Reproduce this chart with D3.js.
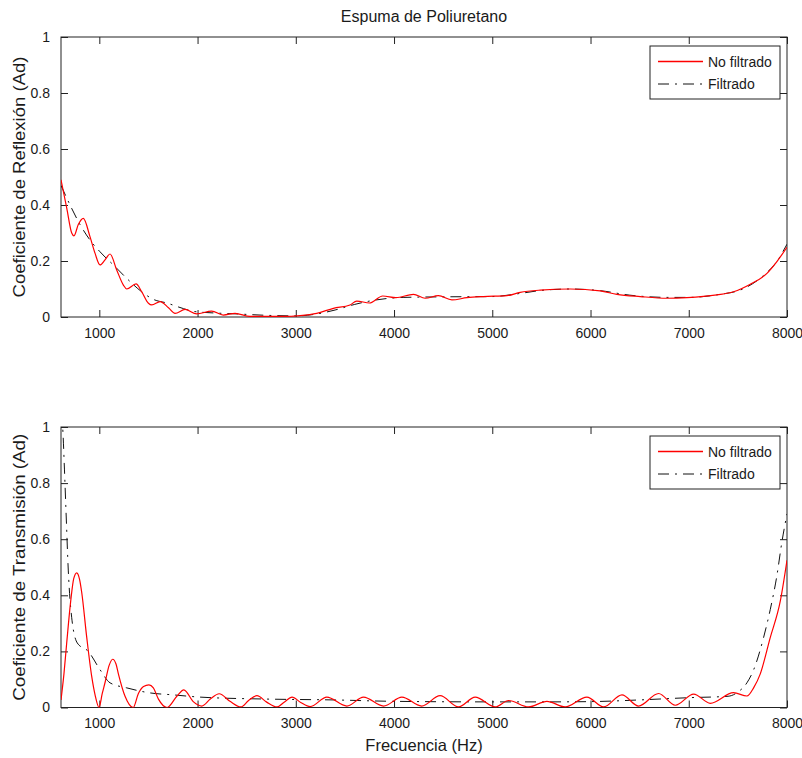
<!DOCTYPE html>
<html>
<head>
<meta charset="utf-8">
<script src="https://cdn.jsdelivr.net/npm/d3@7"></script>
<style>
  body { margin: 0; background: #fff; }
  svg text { font-family: "Liberation Sans", Arial, sans-serif; fill: #1a1a1a; }
</style>
</head>
<body>
<div id="chart"></div>
<script>
// ---- data ----
const xTicks = [1000, 2000, 3000, 4000, 5000, 6000, 7000, 8000];
const yTicks = [0, 0.2, 0.4, 0.6, 0.8, 1];
const seriesNames = ["No filtrado", "Filtrado"];

// Coeficiente de Reflexion
const reflRawFreq = [610, 668, 719, 742, 786, 837, 905, 956, 1007, 1058, 1109, 1177, 1245, 1279, 1374, 1432, 1500, 1534,
  1619, 1704, 1771, 1873, 1991, 2144, 2262, 2382, 2534, 2704, 2874, 3043, 3213, 3383, 3552, 3620, 3750, 3885, 4020,
  4198, 4317, 4452, 4589, 4742, 4910, 5149, 5284, 5488, 5793, 6099, 6269, 6506, 6778, 6982, 7287, 7456, 7626, 7796, 7897, 8000];
const reflRaw = [0.49, 0.39, 0.30, 0.29, 0.33, 0.352, 0.287, 0.228, 0.186, 0.204, 0.225, 0.168, 0.114, 0.10, 0.118, 0.09, 0.049, 0.043,
  0.055, 0.033, 0.013, 0.027, 0.011, 0.021, 0.007, 0.013, 0.002, 0.002, 0.002, 0.005, 0.013, 0.031, 0.043, 0.057, 0.05, 0.075, 0.069,
  0.081, 0.067, 0.076, 0.061, 0.069, 0.073, 0.076, 0.088, 0.096, 0.10, 0.093, 0.081, 0.073, 0.067, 0.069, 0.079, 0.09, 0.117, 0.156, 0.198, 0.249];

const reflFiltFreq = [610, 702, 804, 905, 1007, 1160, 1279, 1432, 1550, 1686, 1856, 1958, 2195, 2400, 2700, 3000, 3200, 3400, 3600,
  3800, 4100, 4500, 5000, 5300, 5500, 5800, 6100, 6400, 6800, 7000, 7300, 7550, 7750, 7900, 8000];
const reflFilt = [0.47, 0.40, 0.33, 0.275, 0.233, 0.18, 0.138, 0.09, 0.063, 0.05, 0.03, 0.02, 0.014, 0.011, 0.006, 0.004, 0.01, 0.025, 0.045,
  0.06, 0.07, 0.072, 0.073, 0.085, 0.095, 0.10, 0.094, 0.078, 0.07, 0.07, 0.08, 0.10, 0.145, 0.20, 0.26];

// Coeficiente de Transmision
const transRawFreq = [610, 640, 668, 709, 740, 770, 800, 821, 872, 923, 960, 997, 1030, 1059, 1100, 1136, 1170, 1194, 1262, 1345,
  1398, 1450, 1505, 1550, 1602, 1690, 1789, 1860, 1959, 2043, 2130, 2220, 2330, 2442, 2520, 2605, 2700, 2809, 2885, 2962, 3050, 3146,
  3316, 3520, 3689, 3893, 4080, 4281, 4469, 4656, 4826, 5030, 5166, 5369, 5556, 5742, 5963, 6133, 6320, 6489, 6693, 6863, 7050,
  7219, 7456, 7592, 7660, 7728, 7830, 7932, 8000];
const transRaw = [0.027, 0.12, 0.23, 0.38, 0.46, 0.48, 0.455, 0.41, 0.25, 0.11, 0.04, 0.0, 0.05, 0.09, 0.15, 0.172, 0.155, 0.12, 0.04, 0.0,
  0.05, 0.075, 0.081, 0.07, 0.03, 0.0, 0.04, 0.063, 0.02, 0.005, 0.03, 0.049, 0.022, 0.002, 0.025, 0.042, 0.02, 0.002, 0.02, 0.037, 0.018, 0.003,
  0.037, 0.005, 0.037, 0.005, 0.037, 0.005, 0.042, 0.002, 0.037, 0.002, 0.025, 0.002, 0.022, 0.002, 0.037, 0.002, 0.045, 0.005, 0.05, 0.008, 0.048,
  0.015, 0.053, 0.041, 0.07, 0.12, 0.25, 0.38, 0.525];

const transFiltFreq = [618, 630, 645, 661, 684, 719, 776, 888, 1007, 1109, 1279, 1517, 1754, 2026, 2707, 3385, 4000, 5000, 5500, 6000,
  6500, 7000, 7400, 7500, 7592, 7660, 7762, 7830, 7897, 7948, 8000];
const transFilt = [1.05, 0.98, 0.85, 0.70, 0.49, 0.32, 0.23, 0.20, 0.135, 0.088, 0.07, 0.052, 0.045, 0.037, 0.03, 0.027, 0.022, 0.02, 0.02, 0.021,
  0.027, 0.035, 0.04, 0.055, 0.088, 0.134, 0.25, 0.35, 0.47, 0.59, 0.69];

const panels = [
  { ylabel: "Coeficiente de Reflexión (Ad)", top: 37, bottom: 317, labelLen: 241,
    raw: [reflRawFreq, reflRaw], filt: [reflFiltFreq, reflFilt] },
  { ylabel: "Coeficiente de Transmisión (Ad)", top: 427, bottom: 707.5, labelLen: 267,
    raw: [transRawFreq, transRaw], filt: [transFiltFreq, transFilt] }
];

const W = 802, H = 758;
const left = 61, right = 787;
const tickLen = 7;
const dashDot = "11,6,2,6";

const svg = d3.select("#chart").append("svg")
  .attr("width", W).attr("height", H);

const x = d3.scaleLinear().domain([610, 8000]).range([left, right]);

svg.append("text")
  .attr("x", (left + right) / 2).attr("y", 22)
  .attr("text-anchor", "middle").attr("font-size", 16)
  .text("Espuma de Poliuretano");

panels.forEach((p, i) => {
  const y = d3.scaleLinear().domain([0, 1]).range([p.bottom, p.top]);
  const g = svg.append("g");
  const clipId = "clip" + i;

  g.append("defs").append("clipPath").attr("id", clipId)
    .append("rect").attr("x", left).attr("y", p.top)
    .attr("width", right - left).attr("height", p.bottom - p.top);

  // axes, MATLAB style: ticks inside on all four sides
  g.append("g").attr("transform", "translate(0," + p.bottom + ")")
    .call(d3.axisBottom(x).tickValues(xTicks).tickSizeInner(-tickLen).tickSizeOuter(0).tickPadding(11).tickFormat(d3.format("d")))
    .call(a => a.select(".domain").remove());
  g.append("g").attr("transform", "translate(0," + p.top + ")")
    .call(d3.axisTop(x).tickValues(xTicks).tickSizeInner(-tickLen).tickSizeOuter(0).tickFormat(""))
    .call(a => a.select(".domain").remove());
  g.append("g").attr("transform", "translate(" + left + ",0)")
    .call(d3.axisLeft(y).tickValues(yTicks).tickSizeInner(-tickLen).tickSizeOuter(0).tickPadding(11).tickFormat(d3.format("~g")))
    .call(a => a.select(".domain").remove());
  g.append("g").attr("transform", "translate(" + right + ",0)")
    .call(d3.axisRight(y).tickValues(yTicks).tickSizeInner(-tickLen).tickSizeOuter(0).tickFormat(""))
    .call(a => a.select(".domain").remove());

  g.selectAll(".tick line").attr("stroke", "#222");
  g.selectAll(".tick text").attr("font-size", 14).attr("fill", "#1a1a1a")
    .attr("font-family", "'Liberation Sans', Arial, sans-serif");

  g.append("rect")
    .attr("x", left).attr("y", p.top)
    .attr("width", right - left).attr("height", p.bottom - p.top)
    .attr("fill", "none").attr("stroke", "#222").attr("stroke-width", 1);

  const line = d3.line()
    .x(d => x(d[0])).y(d => y(d[1]))
    .curve(d3.curveMonotoneX);

  const lines = g.append("g").attr("clip-path", "url(#" + clipId + ")");
  lines.append("path")
    .datum(d3.zip(p.filt[0], p.filt[1]))
    .attr("d", line).attr("fill", "none")
    .attr("stroke", "#111").attr("stroke-width", 1)
    .attr("stroke-dasharray", dashDot);
  lines.append("path")
    .datum(d3.zip(p.raw[0], p.raw[1]))
    .attr("d", line).attr("fill", "none")
    .attr("stroke", "#ff0000").attr("stroke-width", 1.2);

  // y label
  g.append("text")
    .attr("transform", "translate(25," + (p.top + p.bottom) / 2 + ") rotate(-90)")
    .attr("text-anchor", "middle").attr("font-size", 17)
    .attr("textLength", p.labelLen).attr("lengthAdjust", "spacingAndGlyphs")
    .text(p.ylabel);

  // legend
  const lg = g.append("g").attr("transform", "translate(650," + (p.top + 9) + ")");
  lg.append("rect").attr("width", 130).attr("height", 53)
    .attr("fill", "#fff").attr("stroke", "#222").attr("stroke-width", 1);
  seriesNames.forEach((name, k) => {
    const ly = 15.5 + k * 22.5;
    const ln = lg.append("line").attr("x1", 8).attr("x2", 53).attr("y1", ly).attr("y2", ly)
      .style("stroke", k === 0 ? "#ff0000" : "#111")
      .style("stroke-width", k === 0 ? "1.3px" : "1px");
    if (k === 1) ln.style("stroke-dasharray", dashDot);
    lg.append("text").attr("x", 58).attr("y", ly + 5).attr("font-size", 14).text(name);
  });
});

svg.append("text")
  .attr("x", (left + right) / 2).attr("y", 751)
  .attr("text-anchor", "middle").attr("font-size", 16.5)
  .text("Frecuencia (Hz)");
</script>
</body>
</html>
